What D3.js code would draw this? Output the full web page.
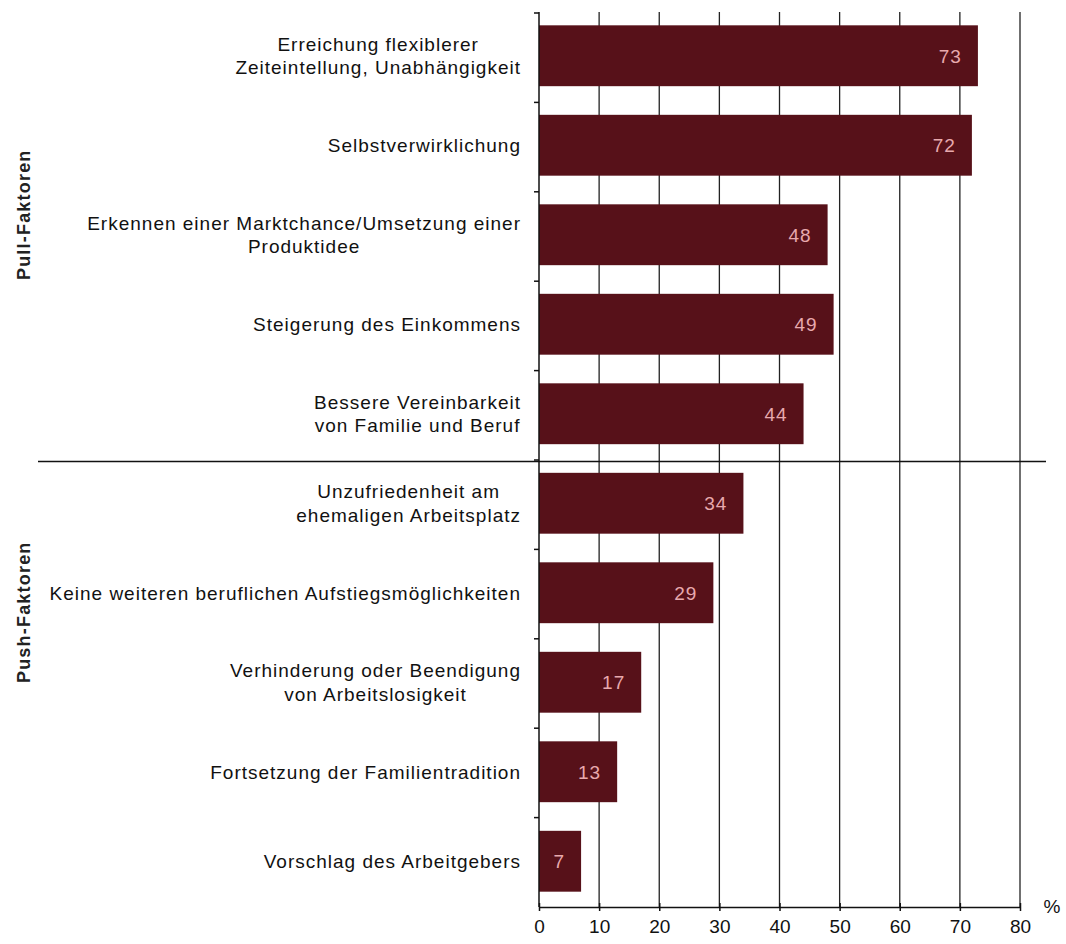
<!DOCTYPE html>
<html><head><meta charset="utf-8">
<script src="https://cdn.jsdelivr.net/npm/d3@7"></script>
<style>body{margin:0;background:#fff}svg{display:block}text{font-family:"Liberation Sans",Arial,sans-serif}</style>
</head><body><svg id="c" width="1066" height="944"></svg>
<script>
const categories = [
  ["Erreichung flexiblerer","Zeiteintellung, Unabhängigkeit"],
  ["Selbstverwirklichung"],
  ["Erkennen einer Marktchance/Umsetzung einer","Produktidee"],
  ["Steigerung des Einkommens"],
  ["Bessere Vereinbarkeit","von Familie und Beruf"],
  ["Unzufriedenheit am","ehemaligen Arbeitsplatz"],
  ["Keine weiteren beruflichen Aufstiegsmöglichkeiten"],
  ["Verhinderung oder Beendigung","von Arbeitslosigkeit"],
  ["Fortsetzung der Familientradition"],
  ["Vorschlag des Arbeitgebers"]
];
const values = [73, 72, 48, 49, 44, 34, 29, 17, 13, 7];
const groups = ["Pull-Faktoren", "Push-Faktoren"];
const xTicks = [0,10,20,30,40,50,60,70,80];

const svg = d3.select("#c");
const ids = categories.map((c,i)=>i);
const x = d3.scaleLinear().domain([0,80]).range([539,1020]);
const y = d3.scaleBand().domain(ids).range([11,906]).paddingInner(0.32).paddingOuter(0.16);
const yb = d3.scaleBand().domain(ids).range([13,907]);
const bw = y.bandwidth();

// gridlines
svg.append("g").selectAll("line").data(xTicks.slice(1)).join("line")
  .attr("x1",d=>x(d)).attr("x2",d=>x(d)).attr("y1",12).attr("y2",907)
  .attr("stroke","#222").attr("stroke-width",1.3);

// bars
svg.append("g").selectAll("rect").data(ids).join("rect")
  .attr("x",x(0)).attr("y",d=>y(d)).attr("width",d=>x(values[d])-x(0)).attr("height",bw)
  .attr("fill","#571119");

// value labels
svg.append("g").selectAll("text").data(ids).join("text")
  .attr("x",d=>x(values[d])-16).attr("y",d=>y(d)+bw/2)
  .attr("dy","0.36em").attr("text-anchor","end").attr("fill","#e8a9ad")
  .attr("font-size",19).attr("letter-spacing","1px").text(d=>values[d]);

// left axis
const gy = svg.append("g");
gy.append("line").attr("x1",539).attr("x2",539).attr("y1",12).attr("y2",907).attr("stroke","#111").attr("stroke-width",1.5);
gy.selectAll("line.t").data(ids).join("line").attr("class","t")
  .attr("x1",534).attr("x2",539).attr("y1",d=>yb(d)).attr("y2",d=>yb(d)).attr("stroke","#111").attr("stroke-width",1.5);

// category labels: block right-aligned at 521, lines centred within block
const labelRight = 521;
const lab = svg.append("g").selectAll("text").data(ids).join("text")
  .attr("font-size",19).attr("fill","#111").attr("letter-spacing","1px")
  .attr("y",d=>y(d)+bw/2);
lab.each(function(d){
  const lines = categories[d];
  const t = d3.select(this);
  const spans = lines.map((l,k)=> t.append("tspan")
    .attr("dy", k===0 ? ((0.36 - (lines.length-1)*0.625)+"em") : "1.25em").text(l));
  const maxW = d3.max(spans, s => s.node().getComputedTextLength());
  const cx = labelRight - maxW/2;
  t.attr("text-anchor","middle");
  spans.forEach(s => s.attr("x", cx));
});

// bottom axis
const xa = d3.axisBottom(x).tickValues(xTicks).tickSize(6).tickSizeOuter(0);
const gx = svg.append("g").attr("transform","translate(0,907)").call(xa);
gx.select(".domain").attr("stroke","#111").attr("stroke-width",1.5);
gx.selectAll(".tick line").attr("stroke","#111").attr("stroke-width",1.5).attr("y1",-4).attr("y2",4);
gx.selectAll(".tick text").attr("font-size",19).attr("fill","#111").attr("y",13).attr("font-family","Liberation Sans, Arial, sans-serif");
svg.append("text").attr("x",1052).attr("y",913).attr("font-size",19).attr("fill","#111").attr("text-anchor","middle").text("%");

// divider
const divY = (y(4)+bw+y(5))/2 + 3;
svg.append("line").attr("x1",38).attr("x2",1046).attr("y1",divY).attr("y2",divY).attr("stroke","#111").attr("stroke-width",1.5);

// group labels
const gCenters = [ y(2)+bw/2-20, y(7)+bw/2-70 ];
svg.append("g").selectAll("text").data(groups).join("text")
  .attr("transform",(d,i)=>`translate(30,${gCenters[i]}) rotate(-90)`)
  .attr("text-anchor","middle").attr("font-size",18).attr("font-weight",600).attr("fill","#222")
  .attr("font-family","Open Sans, sans-serif")
  .attr("letter-spacing","1.2px").text(d=>d);
</script></body></html>
